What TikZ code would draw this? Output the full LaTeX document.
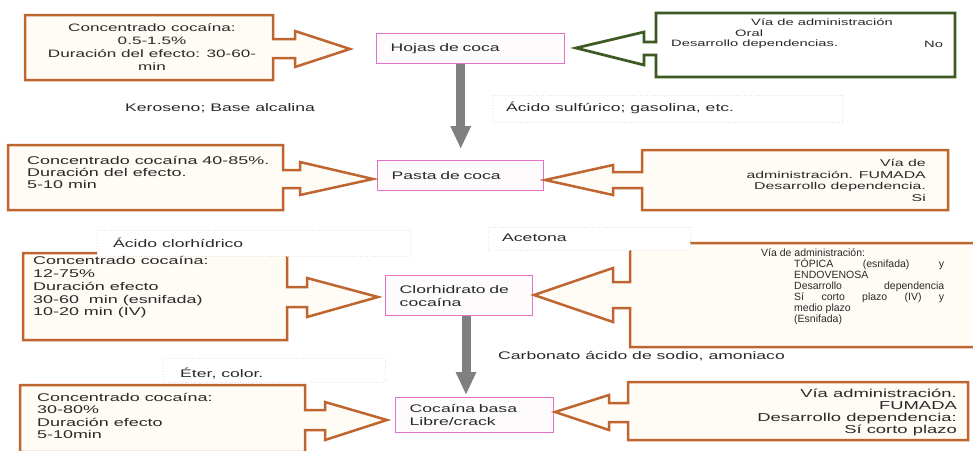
\documentclass[tikz,border=0pt]{standalone}
\usepackage{fontspec}
\setmainfont{Liberation Sans}[FakeStretch=1.6]
\newfontfamily\plainsans{Liberation Sans}
\usetikzlibrary{arrows.meta}
\definecolor{orng}{HTML}{BE6530}
\definecolor{grn}{HTML}{3C5A22}
\definecolor{pnk}{HTML}{E272C8}
\definecolor{creamfill}{HTML}{FFFBF5}
\definecolor{txt}{HTML}{2A2A2A}
\newcommand{\myfs}[2]{\fontsize{#1}{#2}\selectfont}
\begin{document}
\begin{tikzpicture}[x=1pt,y=-1pt,
  callout/.style={draw=orng, line width=2.5pt, fill=creamfill, line join=miter},
  gcallout/.style={draw=grn, line width=2.7pt, fill=white, line join=miter},
  pinkbox/.style={draw=pnk, line width=1.4pt, fill=pnk!3, anchor=north west, inner xsep=14pt, inner ysep=0pt, align=left, text=txt, font=\myfs{11}{13}},
  lbl/.style={anchor=west, inner sep=0pt, text=txt, font=\myfs{11}{13}},
  faint/.style={draw=black!10, dotted, fill=white, line width=0.6pt},
  grayarrow/.style={draw=black!50, line width=9pt, -{Triangle[width=19pt,length=23pt]}},
  txtn/.style={inner sep=0pt, text=txt}
]
\fill[white] (0,0) rectangle (973,450);
\useasboundingbox (0,0) rectangle (973,450);

% pink process boxes
\node[pinkbox, text width=160pt, minimum height=30pt] (hojas) at (376,33) {Hojas de coca};
\node[pinkbox, text width=138pt, minimum height=30pt] (pasta) at (377,160) {Pasta de coca};
\node[pinkbox, text width=119pt, minimum height=40pt] (clor) at (385,275) {Clorhidrato de\\cocaína};
\node[pinkbox, text width=130pt, minimum height=35pt] (coca) at (395,397) {Cocaína basa\\Libre/crack};

% gray process arrows
\coordinate (gx) at (466,0);
\draw[grayarrow, shorten >=11pt] (hojas.south -| pasta.north) -- (pasta.north);
\draw[grayarrow, shorten >=2pt] (clor.south -| gx) -- (coca.north -| gx);

% left callouts
\draw[callout] (25,15) -- (273,15) -- (273,39) -- (295,39) -- (295,31) -- (350,49) -- (295,67) -- (295,58) -- (273,58) -- (273,80) -- (25,80) -- cycle;
\draw[callout] (8,145) -- (283,145) -- (283,170) -- (300,170) -- (300,162) -- (373,179) -- (300,195) -- (300,188) -- (283,188) -- (283,210) -- (8,210) -- cycle;
\draw[callout] (23,253) -- (287,253) -- (287,287) -- (307,287) -- (307,278) -- (378,297) -- (307,317) -- (307,307) -- (287,307) -- (287,340) -- (23,340) -- cycle;
\draw[callout] (20,385) -- (305,385) -- (305,410) -- (325,410) -- (325,402) -- (387,420) -- (325,440) -- (325,430) -- (305,430) -- (305,452) -- (20,452) -- cycle;

% right callouts
\draw[gcallout] (656,13) -- (955,13) -- (955,77) -- (656,77) -- (656,55) -- (644,55) -- (644,65) -- (576,48) -- (644,32) -- (644,42) -- (656,42) -- cycle;
\draw[callout] (642,150) -- (948,150) -- (948,210) -- (642,210) -- (642,188) -- (613,188) -- (613,195) -- (545,180) -- (613,165) -- (613,172) -- (642,172) -- cycle;
\draw[callout] (630,243) -- (980,243) -- (980,347) -- (630,347) -- (630,308) -- (613,308) -- (613,322) -- (534,295) -- (613,268) -- (613,282) -- (630,282) -- cycle;
\draw[callout] (628,382) -- (968,382) -- (968,440) -- (628,440) -- (628,422) -- (609,422) -- (609,430) -- (555,412) -- (609,395) -- (609,403) -- (628,403) -- cycle;

% faint label boxes
\draw[faint] (492,95) rectangle (842,122);
\draw[faint] (97,230) rectangle (410,256);
\draw[faint] (488,227) rectangle (690,250);
\draw[faint] (163,358) rectangle (385,382);

% reagent labels
\node[lbl] (kero) at (125,108) {Keroseno; Base alcalina};
\node[lbl] (sulf) at (506,108) {Ácido sulfúrico; gasolina, etc.};
\node[lbl] (clorh) at (113,243) {Ácido clorhídrico};
\node[lbl] (acet) at (502,238) {Acetona};
\node[lbl] (eter) at (180,373) {Éter, color.};
\node[lbl] (carb) at (498,356) {Carbonato ácido de sodio, amoniaco};

% left texts
\node[txtn, align=center, font=\myfs{10.7}{13}] (t1) at (152,47.5) {Concentrado cocaína:\\0.5-1.5\%\\Duración del efecto: 30-60-\\min};
\node[txtn, align=left, anchor=west, font=\myfs{11.2}{12}] (t2) at (27,172) {Concentrado cocaína 40-85\%.\\Duración del efecto.\\5-10 min};
\node[txtn, align=left, anchor=west, font=\myfs{11.2}{12.75}] (t3) at (33,287.5) {Concentrado cocaína:\\12-75\%\\Duración efecto\\30-60~ min (esnifada)\\10-20 min (IV)};
\node[txtn, align=left, anchor=west, font=\myfs{11.2}{12.3}] (t4) at (37,416) {Concentrado cocaína:\\30-80\%\\Duración efecto\\5-10min};

% right texts
\node[txtn, anchor=west, font=\myfs{9.2}{11}] (g1) at (751,22) {Vía de administración};
\node[txtn, anchor=west, font=\myfs{9.2}{11}] (g2) at (735,33) {Oral};
\node[txtn, anchor=west, font=\myfs{9.2}{11}] (g3) at (671,44) {Desarrollo dependencias.};
\node[txtn, anchor=west, font=\myfs{9.2}{11}] (g4) at (924,44) {No};
\node[txtn, align=right, anchor=east, font=\myfs{9.9}{11.7}] (r2) at (926,180.5) {Vía de\\administración. FUMADA\\Desarrollo dependencia.\\Si};
\node[txtn, align=left, anchor=west, font=\plainsans\myfs{10.5}{11}] (r3) at (761,287) {Vía de administración:\\
\hspace*{33pt}\makebox[150pt][s]{TÓPICA (esnifada) y}\\
\hspace*{33pt}ENDOVENOSA\\
\hspace*{33pt}\makebox[150pt][s]{Desarrollo dependencia}\\
\hspace*{33pt}\makebox[150pt][s]{Sí corto plazo (IV) y}\\
\hspace*{33pt}medio plazo\\
\hspace*{33pt}(Esnifada)};
\node[txtn, align=right, anchor=east, font=\myfs{11.5}{12}] (r4) at (957,412) {Vía administración.\\FUMADA\\Desarrollo dependencia:\\Sí corto plazo};
\end{tikzpicture}
\end{document}
